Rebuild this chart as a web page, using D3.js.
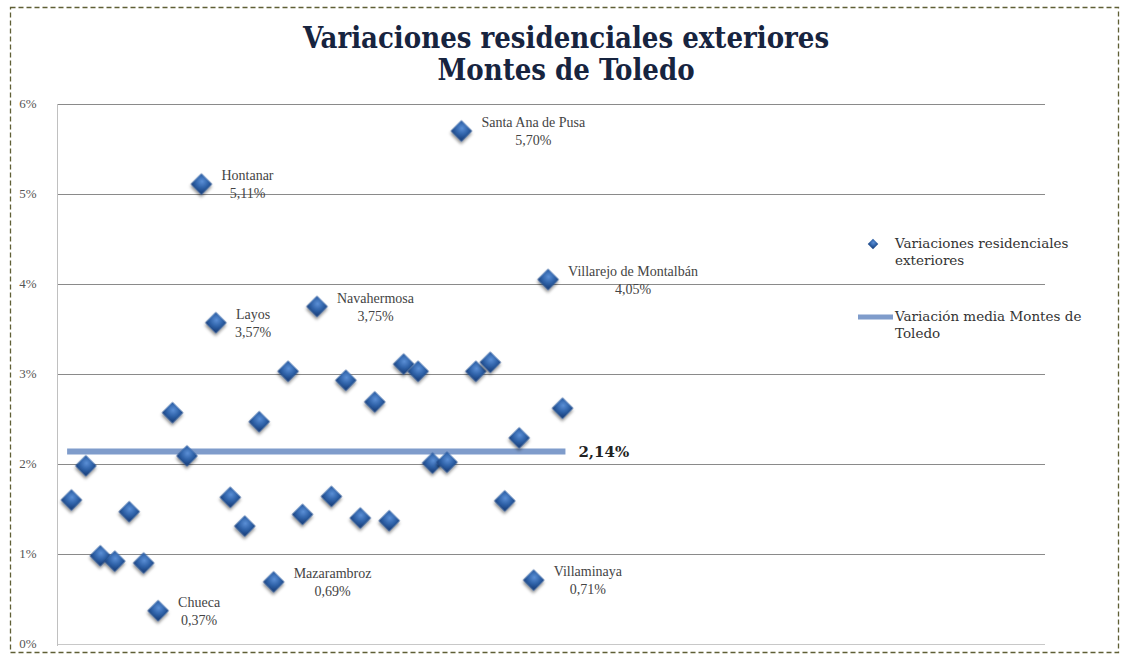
<!DOCTYPE html>
<html>
  <head>
    <meta charset="utf-8">
    <title>Variaciones residenciales exteriores</title>
    <script src="https://d3js.org/d3.v7.min.js"></script>
    <style>
      body { margin: 0; background: #fff; }
      svg text { font-family: "DejaVu Serif", "Liberation Serif", serif; }
    </style>
  </head>
  <body>
    <svg id="chart" width="1123" height="664"></svg>
    <script>
      // data: one value per municipality, in order of appearance
      var values = [1.60, 1.98, 0.98, 0.92, 1.47, 0.90, 0.37, 2.57, 2.09, 5.11,
                    3.57, 1.63, 1.31, 2.47, 0.69, 3.03, 1.44, 3.75, 1.64, 2.93,
                    1.40, 2.69, 1.37, 3.11, 3.03, 2.01, 2.02, 5.70, 3.03, 3.13,
                    1.59, 2.29, 0.71, 4.05, 2.62];
      var labelled = [
        {i: 7, name: "Chueca", text: "0,37%"},
        {i: 10, name: "Hontanar", text: "5,11%"},
        {i: 11, name: "Layos", text: "3,57%"},
        {i: 15, name: "Mazarambroz", text: "0,69%"},
        {i: 18, name: "Navahermosa", text: "3,75%"},
        {i: 28, name: "Santa Ana de Pusa", text: "5,70%"},
        {i: 33, name: "Villaminaya", text: "0,71%"},
        {i: 34, name: "Villarejo de Montalbán", text: "4,05%"}
      ];
      var mean = 2.14;
      var meanLabel = "2,14%";
      var meanSpan = [0.7, 35.2];
      var yTicks = [0, 1, 2, 3, 4, 5, 6];
      var titleLines = ["Variaciones residenciales exteriores", "Montes de Toledo"];
      var legendItems = ["Variaciones residenciales|exteriores", "Variación media Montes de|Toledo"];

      var svg = d3.select("#chart");
      var defs = svg.append("defs");
      var grad = defs.append("radialGradient").attr("id", "dia")
        .attr("cx", "40%").attr("cy", "35%").attr("r", "70%");
      grad.append("stop").attr("offset", "0%").attr("stop-color", "#5b8fd6");
      grad.append("stop").attr("offset", "60%").attr("stop-color", "#2f62a8");
      grad.append("stop").attr("offset", "100%").attr("stop-color", "#1d4684");
      var shadow = defs.append("filter").attr("id", "shadow")
        .attr("x", "-50%").attr("y", "-50%").attr("width", "200%").attr("height", "200%");
      shadow.append("feDropShadow").attr("dx", 1.5).attr("dy", 2).attr("stdDeviation", 1.5)
        .attr("flood-color", "#000").attr("flood-opacity", 0.45);

      // frame
      svg.append("rect")
        .attr("x", 10.5).attr("y", 7.5).attr("width", 1108).attr("height", 645)
        .attr("fill", "none").attr("stroke", "#5f5f35").attr("stroke-width", 1.3)
        .attr("stroke-dasharray", "5,3");

      // title
      svg.append("g").selectAll("text")
        .data(titleLines)
        .enter().append("text")
          .attr("x", 566)
          .attr("y", function(d, i) { return 48 + i * 32; })
          .attr("text-anchor", "middle")
          .style("font-family", "'DejaVu Serif Condensed', 'DejaVu Serif', serif")
          .style("font-stretch", "condensed")
          .style("font-weight", "bold")
          .style("font-size", "29px")
          .style("fill", "#17243f")
          .text(function(d) { return d; });

      var x = d3.scaleLinear().domain([0, 68.4]).range([57, 1045]);
      var y = d3.scaleLinear().domain([0, 6]).range([644, 104]);

      // gridlines
      svg.append("g").selectAll("line")
        .data(yTicks)
        .enter().append("line")
          .attr("x1", x(0)).attr("x2", x.range()[1])
          .attr("y1", function(d) { return y(d) + 0.5; })
          .attr("y2", function(d) { return y(d) + 0.5; })
          .attr("stroke", function(d) { return d === 0 ? "#c8c8c8" : "#8a8a8a"; })
          .attr("stroke-width", 1);
      svg.append("line")
        .attr("x1", x(0) + 0.5).attr("x2", x(0) + 0.5)
        .attr("y1", y(6)).attr("y2", y(0) + 2)
        .attr("stroke", "#c0c0c0");

      // y axis labels
      svg.append("g").selectAll("text")
        .data(yTicks)
        .enter().append("text")
          .attr("x", 28)
          .attr("y", function(d) { return y(d) + 4; })
          .attr("text-anchor", "middle")
          .style("font-family", "'Liberation Serif', serif")
          .style("font-size", "13px")
          .style("fill", "#555")
          .text(function(d) { return d + "%"; });

      // mean line
      svg.append("line")
        .attr("x1", x(meanSpan[0])).attr("x2", x(meanSpan[1]))
        .attr("y1", y(mean)).attr("y2", y(mean))
        .attr("stroke", "#7f9ccb").attr("stroke-width", 6);
      svg.append("text")
        .attr("x", x(meanSpan[1]) + 13)
        .attr("y", y(mean) + 6)
        .style("font-weight", "bold")
        .style("font-size", "15px")
        .style("fill", "#222")
        .text(meanLabel);

      // points
      var diamond = d3.symbol().type(d3.symbolSquare).size(230);
      svg.append("g").selectAll("path")
        .data(values)
        .enter().append("path")
          .attr("d", diamond)
          .attr("transform", function(d, i) { return "translate(" + x(i + 1) + "," + y(d) + ") rotate(45)"; })
          .attr("fill", "url(#dia)")
          .attr("filter", "url(#shadow)");

      // point labels
      var lab = svg.append("g").selectAll("g")
        .data(labelled)
        .enter().append("g")
          .attr("transform", function(d) { return "translate(" + (x(d.i) + 20) + "," + y(values[d.i - 1]) + ")"; });
      lab.append("text")
        .attr("class", "nm")
        .attr("y", -4)
        .style("font-family", "'Liberation Serif', serif")
        .style("font-size", "14px")
        .style("fill", "#444")
        .text(function(d) { return d.name; });
      lab.append("text")
        .attr("x", function() {
          return this.parentNode.querySelector(".nm").getComputedTextLength() / 2;
        })
        .attr("y", 14)
        .attr("text-anchor", "middle")
        .style("font-family", "'Liberation Serif', serif")
        .style("font-size", "14px")
        .style("fill", "#444")
        .text(function(d) { return d.text; });

      // legend
      var legend = svg.append("g").attr("transform", "translate(895,0)");
      legend.append("path")
        .attr("d", d3.symbol().type(d3.symbolSquare).size(55))
        .attr("transform", "translate(-22,244) rotate(45)")
        .attr("fill", "url(#dia)");
      legend.append("line")
        .attr("x1", -37).attr("x2", -2).attr("y1", 317).attr("y2", 317)
        .attr("stroke", "#7f9ccb").attr("stroke-width", 5);
      legendItems.forEach(function(item, k) {
        var t = legend.append("text")
          .attr("y", k === 0 ? 248 : 321)
          .style("font-size", "13.5px")
          .style("fill", "#333");
        item.split("|").forEach(function(line, j) {
          t.append("tspan").attr("x", 0).attr("dy", j === 0 ? 0 : 17).text(line);
        });
      });
    </script>
  </body>
</html>
